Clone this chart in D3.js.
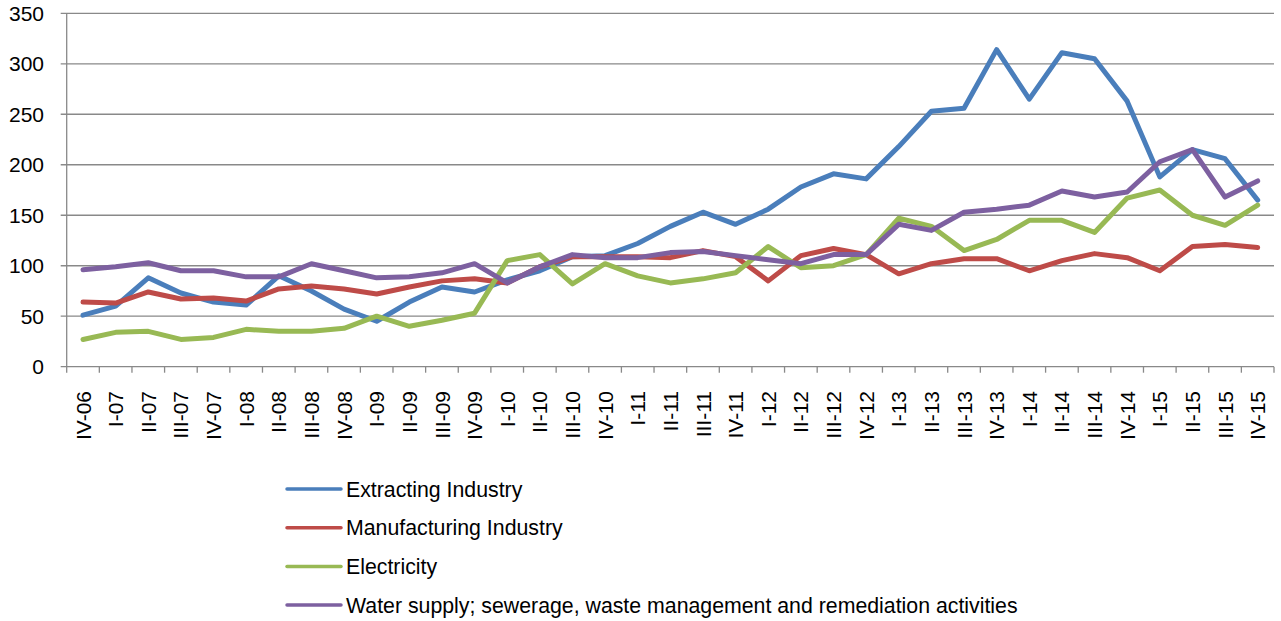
<!DOCTYPE html>
<html>
<head>
<meta charset="utf-8">
<script src="https://cdn.jsdelivr.net/npm/d3@7"></script>
<style>
	body { margin: 0; background: #fff; }
	svg { display: block; font-family: "Liberation Sans", Arial, sans-serif; }
</style>
</head>
<body>
<svg width="1281" height="621"></svg>
<script>

	var quarters = ["IV-06","I-07","II-07","III-07","IV-07","I-08","II-08","III-08","IV-08",
		"I-09","II-09","III-09","IV-09","I-10","II-10","III-10","IV-10","I-11","II-11","III-11","IV-11",
		"I-12","II-12","III-12","IV-12","I-13","II-13","III-13","IV-13","I-14","II-14","III-14","IV-14",
		"I-15","II-15","III-15","IV-15"];

	var extracting = [51,60,88,73,64,61,90,75,57,45,64,79,74,86,95,109,110,122,139,153,141,
		156,178,191,186,218,253,256,314,265,311,305,263,188,215,206,165];

	var manufacturing = [64,63,74,67,68,65,77,80,77,72,79,85,87,83,99,109,109,109,108,115,109,
		85,110,117,111,92,102,107,107,95,105,112,108,95,119,121,118];

	var electricity = [27,34,35,27,29,37,35,35,38,50,40,46,53,105,111,82,102,90,83,87,93,
		119,98,100,111,147,139,115,126,145,145,133,167,175,150,140,160];

	var water = [96,99,103,95,95,89,89,102,95,88,89,93,102,83,99,111,108,108,113,114,110,
		106,102,111,111,141,135,153,156,160,174,168,173,203,215,168,184];

	var series_names = ["Extracting Industry", "Manufacturing Industry", "Electricity",
		"Water supply; sewerage, waste management and remediation activities"];
	var series_colors = ["#4a7ebb", "#be4b48", "#98b954", "#7d60a0"];
	var y_ticks = [0, 50, 100, 150, 200, 250, 300, 350];

	var svg = d3.select("svg");
	// note: not "top" -- that one is taken by window.top
	var plot_left = 66.7, plot_right = 1274, plot_top = 13.3, plot_bottom = 366.7;

	var x = d3.scaleBand().domain(quarters).range([plot_left, plot_right]).paddingInner(0).paddingOuter(0);
	var y = d3.scaleLinear().domain([0, 350]).range([plot_bottom, plot_top]);

	function cx(q){ return x(q) + x.bandwidth() / 2; }

	// grid lines (with the small tick stubs to the left of the axis)
	svg.append("g").selectAll("line").data(y_ticks).enter().append("line")
		.attr("x1", plot_left - 6).attr("x2", plot_right)
		.attr("y1", function(d){ return y(d); }).attr("y2", function(d){ return y(d); })
		.attr("stroke", "#898989").attr("stroke-width", 1.3);

	// y axis line
	svg.append("line")
		.attr("x1", plot_left).attr("x2", plot_left).attr("y1", plot_top).attr("y2", plot_bottom)
		.attr("stroke", "#898989").attr("stroke-width", 1.3);

	// x tick marks between categories
	var bounds = quarters.map(function(q){ return x(q); }).concat([plot_right]);
	svg.append("g").selectAll("line").data(bounds).enter().append("line")
		.attr("x1", function(d){ return d; }).attr("x2", function(d){ return d; })
		.attr("y1", plot_bottom).attr("y2", plot_bottom + 6)
		.attr("stroke", "#898989").attr("stroke-width", 1.3);

	// y labels
	svg.append("g").selectAll("text").data(y_ticks).enter().append("text")
		.attr("x", 44).attr("y", function(d){ return y(d); })
		.attr("dy", "0.36em").attr("text-anchor", "end")
		.attr("font-size", 21).attr("fill", "#000")
		.text(function(d){ return d; });

	// x labels, rotated
	svg.append("g").selectAll("text").data(quarters).enter().append("text")
		.attr("transform", function(q){ return "translate(" + cx(q) + ",391) rotate(-90)"; })
		.attr("dy", "0.36em").attr("text-anchor", "end")
		.attr("font-size", 21).attr("fill", "#000")
		.text(function(q){ return q; });

	// lines
	var all_series = [extracting, manufacturing, electricity, water];
	var line = d3.line()
		.x(function(d, i){ return cx(quarters[i]); })
		.y(function(d){ return y(d); });

	svg.append("g").selectAll("path").data(all_series).enter().append("path")
		.attr("d", function(d){ return line(d); })
		.attr("fill", "none")
		.attr("stroke", function(d, i){ return series_colors[i]; })
		.attr("stroke-width", 5)
		.attr("stroke-linejoin", "round")
		.attr("stroke-linecap", "round");

	// legend
	var legend = svg.append("g").selectAll("g").data(series_names).enter().append("g")
		.attr("transform", function(d, i){ return "translate(287," + (489 + i * 38.7) + ")"; });

	legend.append("line")
		.attr("x1", 0).attr("x2", 54).attr("y1", 0).attr("y2", 0)
		.attr("stroke", function(d, i){ return series_colors[i]; })
		.attr("stroke-width", 3.5).attr("stroke-linecap", "round");

	legend.append("text")
		.attr("x", 59).attr("y", 0).attr("dy", "0.36em")
		.attr("font-size", 21.3).attr("fill", "#000")
		.text(function(d){ return d; });

</script>
</body>
</html>
